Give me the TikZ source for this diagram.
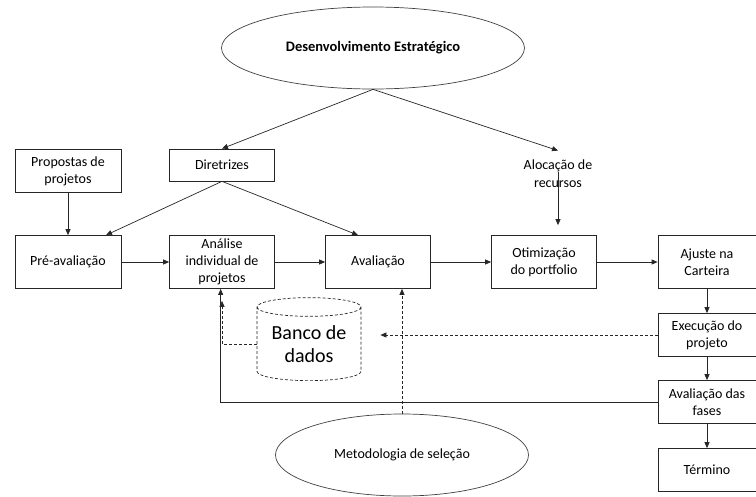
\documentclass[tikz,border=0pt]{standalone}
\usepackage{fontspec}
\setmainfont{Carlito}
\usetikzlibrary{shapes.geometric,arrows.meta,positioning,calc}

\begin{document}
\begin{tikzpicture}[x=1pt, y=-1pt,
    box/.style={rectangle, draw=black!85, line width=0.7pt, fill=white, minimum width=105pt, minimum height=53pt, align=center, font=\fontsize{14}{17}\selectfont, inner sep=2pt},
    smallbox/.style={box, minimum height=43pt},
    oval/.style={ellipse, draw=black!75, line width=0.7pt, minimum width=303pt, minimum height=82pt, inner sep=0pt, font=\fontsize{14}{17}\selectfont},
    arrow/.style={-{Triangle[length=6pt, width=5pt]}, line width=0.7pt, black!85},
    darrow/.style={-{Triangle[length=6pt, width=5pt]}, line width=0.7pt, black!85, densely dashed}
  ]
    \useasboundingbox (0,0) rectangle (756,496);

    % --- TOP: STRATEGY ---
    \node[oval, font=\fontsize{14.5}{17}\selectfont\bfseries] (estr) at (373,48) {Desenvolvimento Estratégico};
    \node[box, minimum height=32pt] (dir) at (222,165) {Diretrizes};
    \node[align=center, font=\fontsize{14}{18}\selectfont] (aloc) at (558,174) {Alocação de\\ recursos};
    \node[smallbox, minimum width=106pt] (prop) at (68,171) {Propostas de\\ projetos};

    % --- MAIN ROW ---
    \node[box, minimum width=106pt] (pre) at (68,262) {Pré-avaliação};
    \node[box] (anal) at (222,262) {Análise\\ individual de\\ projetos};
    \node[box] (aval) at (378,262) {Avaliação};
    \node[box] (otim) at (544,262) {Otimização\\ do portfolio};
    \node[box, minimum width=98pt] (ajus) at (707,262) {Ajuste na\\ Carteira};

    % --- RIGHT COLUMN ---
    \node[smallbox, minimum width=98pt] (exec) at (707,335) {Execução do\\ projeto};
    \node[smallbox, minimum width=98pt] (fase) at (707,402) {Avaliação das\\ fases};
    \node[smallbox, minimum width=98pt] (term) at (707,470) {Término};

    % --- BOTTOM ---
    \node[cylinder, shape border rotate=90, aspect=0.25, draw=black!85, densely dashed, line width=0.7pt, minimum width=104pt, minimum height=83pt, inner sep=0pt, align=center, font=\fontsize{20}{23}\selectfont] (banco) at (309,344) {Banco de\\ dados};
    \node[oval, minimum width=253pt] (metod) at (402,455) {Metodologia de seleção};

    % --- CONNECTORS ---
    \draw[arrow] (estr.south) -- (dir.north);
    \draw[arrow] (estr.south) -- ($(aloc.north)+(0,-6)$);
    \draw[arrow, shorten >=10pt] ($(aloc.center)+(0,-2)$) -- (aloc.center |- otim.north);
    \draw[arrow] (prop) -- (pre);
    \draw[arrow] (dir.south) -- ($(pre.north)+(38,0)$);
    \draw[arrow] (dir.south) -- ($(aval.north)+(-20,0)$);

    \draw[arrow] (pre) -- (anal);
    \draw[arrow] (anal) -- (aval);
    \draw[arrow] (aval) -- (otim);
    \draw[arrow] (otim) -- (ajus);

    \draw[arrow] (ajus) -- (exec);
    \draw[arrow] (exec) -- (fase);
    \draw[arrow] (fase) -- (term);

    \draw[darrow, shorten >=19pt] (exec.west) -- (exec.west -| banco.east);
    \draw[darrow, shorten >=12pt] (banco.west) -| (anal.south);
    \draw[darrow] (metod.north) -- (metod.north |- aval.south);
    \draw[arrow] (fase.west) -- ++(-437,0) coordinate (ret) -- (ret |- anal.south);
\end{tikzpicture}
\end{document}
